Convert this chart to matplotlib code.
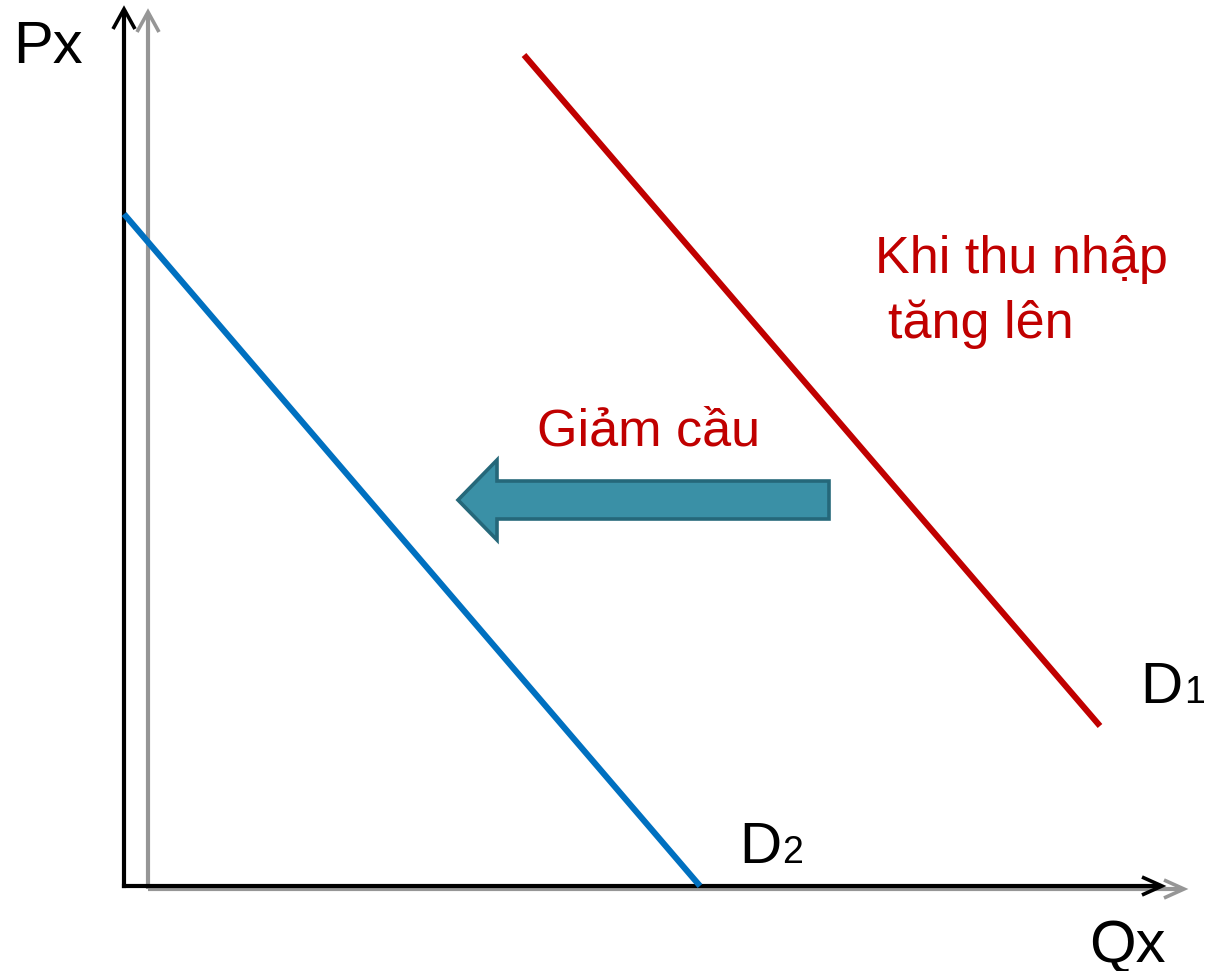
import matplotlib
matplotlib.use("Agg")
import matplotlib.pyplot as plt
from matplotlib.patches import Polygon

plt.rcParams['font.family'] = ['Liberation Sans', 'DejaVu Sans']

# Canvas coordinates (pixel-like units, y downward)
W, H = 1212, 971

# Demand curves (quantity, price) endpoints
d1_q = [524, 1100]
d1_p = [55, 726]
d2_q = [124, 700]
d2_p = [214, 886]

# Axes
black_axis_x = 124
black_axis_y = 886
black_top = 9
black_right = 1162
gray_axis_x = 148
gray_axis_y = 889
gray_top = 12
gray_right = 1184

# Shift arrow (block arrow pointing left)
arr_tail = 829
arr_tip = 458
arr_head_len = 39
arr_mid = 500
arr_body_half = 19
arr_head_half = 40

labels = {
    'px': ("Px", 13, 63, 43),
    'qx': ("Qx", 1089, 962, 43),
}

fig = plt.figure(figsize=(W / 100, H / 100), dpi=100)
ax = fig.add_axes([0, 0, 1, 1])
ax.set_xlim(0, W)
ax.set_ylim(H, 0)
ax.axis('off')

def chevron_up(x, ytip, color, lw):
    ax.plot([x - 11, x, x + 11], [ytip + 20, ytip, ytip + 20], color=color, lw=lw,
            solid_joinstyle='miter', solid_capstyle='butt')

def chevron_right(xtip, y, color, lw):
    ax.plot([xtip - 20, xtip, xtip - 20], [y - 9, y, y + 9], color=color, lw=lw,
            solid_joinstyle='miter', solid_capstyle='butt')

gray = '#969696'
# gray axes
ax.plot([gray_axis_x, gray_axis_x], [gray_axis_y, gray_top + 3], color=gray, lw=3.0, solid_capstyle='butt')
ax.plot([gray_axis_x, gray_right - 3], [gray_axis_y, gray_axis_y], color=gray, lw=3.0, solid_capstyle='butt')
chevron_up(gray_axis_x, gray_top, gray, 2.6)
chevron_right(gray_right, gray_axis_y, gray, 2.6)

# black axes
ax.plot([black_axis_x, black_axis_x], [black_axis_y, black_top + 3], color='black', lw=3.0, solid_capstyle='projecting')
ax.plot([black_axis_x, black_right - 3], [black_axis_y, black_axis_y], color='black', lw=3.0, solid_capstyle='projecting')
chevron_up(black_axis_x, black_top, 'black', 2.6)
chevron_right(black_right, black_axis_y, 'black', 2.6)

# demand curves
ax.plot(d1_q, d1_p, color='#C00000', lw=4.4, solid_capstyle='butt')
ax.plot(d2_q, d2_p, color='#0070C0', lw=4.4, solid_capstyle='butt')

# shift arrow
neck = arr_tip + arr_head_len
pts = [(arr_tail, arr_mid - arr_body_half), (neck, arr_mid - arr_body_half),
       (neck, arr_mid - arr_head_half), (arr_tip, arr_mid),
       (neck, arr_mid + arr_head_half), (neck, arr_mid + arr_body_half),
       (arr_tail, arr_mid + arr_body_half)]
ax.add_patch(Polygon(pts, closed=True, facecolor='#3A90A6', edgecolor='#25687A',
                     lw=2.6, joinstyle='miter'))

# text
for txt, x, y, s in labels.values():
    ax.text(x, y, txt, fontsize=s, color='black', ha='left', va='baseline')

red = '#C00000'
ax.text(875, 273, "Khi thu nhập", fontsize=37.5, color=red, ha='left', va='baseline')
ax.text(888, 338, "tăng lên", fontsize=37.5, color=red, ha='left', va='baseline')
ax.text(537, 446, "Giảm cầu", fontsize=37.5, color=red, ha='left', va='baseline')

ax.text(1140, 703, "D", fontsize=42, color='black', ha='left', va='baseline')
ax.text(1184, 703, "1", fontsize=27, color='black', ha='left', va='baseline')
ax.text(739, 863, "D", fontsize=42, color='black', ha='left', va='baseline')
ax.text(782, 863, "2", fontsize=27, color='black', ha='left', va='baseline')

fig.savefig("out.png", dpi=100)
